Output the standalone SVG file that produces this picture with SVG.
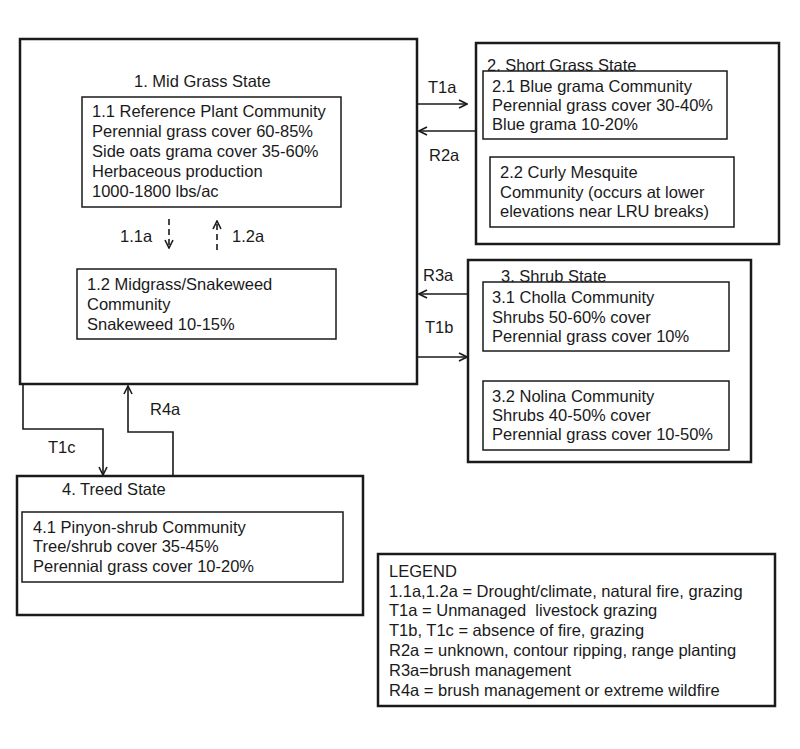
<svg xmlns="http://www.w3.org/2000/svg" width="800" height="749" viewBox="0 0 800 749">
<defs>
<style>
text{font-family:"Liberation Sans",Arial,sans-serif;font-size:16.5px;fill:#1a1a1a}
.state{fill:none;stroke:#1a1a1a;stroke-width:2.5}
.comm{fill:none;stroke:#1a1a1a;stroke-width:1.5}
.conn{fill:none;stroke:#1a1a1a;stroke-width:1.6}
.dash{stroke-dasharray:6 4}
</style>
<marker id="ah" viewBox="0 0 10 10" refX="9" refY="5" markerWidth="10" markerHeight="10" markerUnits="userSpaceOnUse" orient="auto">
<path d="M1,1 L9,5 L1,9" fill="none" stroke="#1a1a1a" stroke-width="1.6"/>
</marker>
</defs>
<rect width="800" height="749" fill="#fff"/>

<g id="state1">
<rect class="state" x="20" y="39" width="397" height="345"/>
<text x="134" y="87">1. Mid Grass State</text>
</g>
<g id="comm11">
<rect class="comm" x="82" y="97" width="259" height="110"/>
<text x="92" y="117">1.1 Reference Plant Community</text>
<text x="92" y="137">Perennial grass cover 60-85%</text>
<text x="92" y="157">Side oats grama cover 35-60%</text>
<text x="92" y="177">Herbaceous production</text>
<text x="92" y="197">1000-1800 lbs/ac</text>
</g>
<g id="comm12">
<rect class="comm" x="77" y="269" width="259" height="70"/>
<text x="87" y="290">1.2 Midgrass/Snakeweed</text>
<text x="87" y="310">Community</text>
<text x="87" y="330">Snakeweed 10-15%</text>
</g>

<g id="state2">
<rect class="state" x="476" y="43" width="303" height="201"/>
<text x="487" y="71">2. Short Grass State</text>
</g>
<g id="comm21">
<rect class="comm" x="483" y="71" width="244" height="68"/>
<text x="492" y="92">2.1 Blue grama Community</text>
<text x="492" y="111">Perennial grass cover 30-40%</text>
<text x="492" y="130">Blue grama 10-20%</text>
</g>
<g id="comm22">
<rect class="comm" x="490" y="157" width="244" height="70"/>
<text x="500" y="178">2.2 Curly Mesquite</text>
<text x="500" y="198">Community (occurs at lower</text>
<text x="500" y="217">elevations near LRU breaks)</text>
</g>

<g id="state3">
<rect class="state" x="468" y="260" width="283" height="202"/>
<text x="501" y="282">3. Shrub State</text>
</g>
<g id="comm31">
<rect class="comm" x="483" y="282" width="246" height="69"/>
<text x="492" y="303">3.1 Cholla Community</text>
<text x="492" y="323">Shrubs 50-60% cover</text>
<text x="492" y="342">Perennial grass cover 10%</text>
</g>
<g id="comm32">
<rect class="comm" x="483" y="381" width="246" height="69"/>
<text x="492" y="402">3.2 Nolina Community</text>
<text x="492" y="421">Shrubs 40-50% cover</text>
<text x="492" y="440">Perennial grass cover 10-50%</text>
</g>

<g id="state4">
<rect class="state" x="17" y="476" width="346" height="139"/>
<text x="62" y="495">4. Treed State</text>
</g>
<g id="comm41">
<rect class="comm" x="22" y="512" width="321" height="70"/>
<text x="33" y="533">4.1 Pinyon-shrub Community</text>
<text x="33" y="552">Tree/shrub cover 35-45%</text>
<text x="33" y="572">Perennial grass cover 10-20%</text>
</g>

<g id="legend">
<rect class="state" x="378" y="554" width="397" height="152" stroke-width="2"/>
<text x="389" y="577">LEGEND</text>
<text x="389" y="597">1.1a,1.2a = Drought/climate, natural fire, grazing</text>
<text x="389" y="616" style="white-space:pre">T1a = Unmanaged  livestock grazing</text>
<text x="389" y="636">T1b, T1c = absence of fire, grazing</text>
<text x="389" y="656">R2a = unknown, contour ripping, range planting</text>
<text x="389" y="676">R3a=brush management</text>
<text x="389" y="696">R4a = brush management or extreme wildfire</text>
</g>

<g id="connectors">
<path class="conn dash" d="M169,219 L169,248" marker-end="url(#ah)"/>
<path class="conn dash" d="M217,250 L217,221" marker-end="url(#ah)"/>
<path class="conn" d="M417,104 L467,104" marker-end="url(#ah)"/>
<path class="conn" d="M476,131 L419,131" marker-end="url(#ah)"/>
<path class="conn" d="M468,294 L419,294" marker-end="url(#ah)"/>
<path class="conn" d="M417,357 L467,357" marker-end="url(#ah)"/>
<path class="conn" d="M23,384 L23,429 L103,429 L103,475" marker-end="url(#ah)"/>
<path class="conn" d="M173,476 L173,432 L128,432 L128,386" marker-end="url(#ah)"/>
<text x="120" y="242">1.1a</text>
<text x="232" y="242">1.2a</text>
<text x="428" y="93">T1a</text>
<text x="429" y="161">R2a</text>
<text x="423" y="281">R3a</text>
<text x="425" y="333">T1b</text>
<text x="150" y="415">R4a</text>
<text x="48" y="453">T1c</text>
</g>
</svg>
